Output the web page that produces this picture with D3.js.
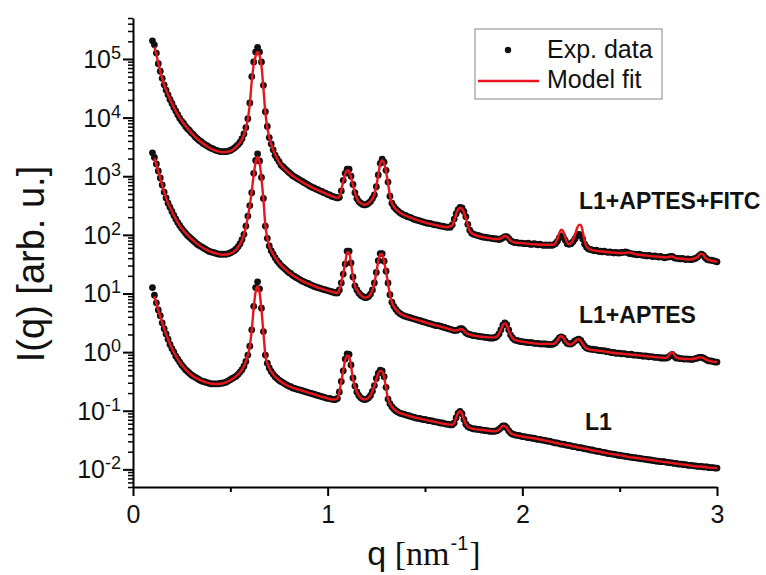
<!DOCTYPE html>
<html><head><meta charset="utf-8">
<script src="https://cdn.jsdelivr.net/npm/d3@7"></script>
<style>body{margin:0;background:#fff}svg{display:block}</style>
</head><body>
<svg id="chart" width="766" height="575"></svg>
<script>
// q grid of the measured points (nm^-1), 0.10 ... 3.00
const qData = d3.range(10, 301).map(i => i / 100);

const expFITC = [
2.04e5,1.74e5,1.26e5,8.32e4,6.17e4,4.68e4,3.63e4,2.95e4,2.45e4,2.04e4,
1.74e4,1.48e4,1.29e4,1.12e4,9.77e3,8.71e3,7.94e3,7.08e3,6.46e3,6.03e3,
5.50e3,5.13e3,4.68e3,4.37e3,4.07e3,3.89e3,3.63e3,3.47e3,3.31e3,3.16e3,
3.02e3,2.95e3,2.82e3,2.75e3,2.69e3,2.63e3,2.63e3,2.63e3,2.63e3,2.69e3,
2.75e3,2.88e3,3.02e3,3.24e3,3.47e3,3.80e3,4.37e3,5.25e3,6.76e3,9.55e3,
1.78e4,5.01e4,8.91e4,1.32e5,1.58e5,1.32e5,8.91e4,3.55e4,1.26e4,7.08e3,
4.57e3,3.55e3,2.82e3,2.29e3,2.00e3,1.78e3,1.55e3,1.45e3,1.35e3,1.26e3,
1.17e3,1.10e3,1.02e3,9.77e2,9.33e2,8.91e2,8.51e2,8.13e2,7.76e2,7.41e2,
7.08e2,6.76e2,6.46e2,6.31e2,6.03e2,5.89e2,5.62e2,5.50e2,5.25e2,5.13e2,
4.90e2,4.79e2,4.57e2,4.47e2,4.37e2,4.27e2,4.37e2,5.62e2,8.51e2,1.12e3,
1.32e3,1.32e3,1.00e3,7.24e2,5.25e2,4.17e2,3.72e2,3.47e2,3.31e2,3.24e2,
3.31e2,3.47e2,3.72e2,4.17e2,4.79e2,6.61e2,1.05e3,1.66e3,1.95e3,1.74e3,
1.26e3,7.94e2,4.57e2,3.47e2,3.02e2,2.75e2,2.57e2,2.40e2,2.29e2,2.19e2,
2.14e2,2.04e2,2.00e2,1.95e2,1.86e2,1.82e2,1.78e2,1.74e2,1.70e2,1.66e2,
1.62e2,1.58e2,1.58e2,1.55e2,1.51e2,1.48e2,1.48e2,1.45e2,1.41e2,1.41e2,
1.38e2,1.35e2,1.35e2,1.35e2,1.48e2,1.86e2,2.29e2,2.69e2,2.95e2,2.88e2,
2.51e2,2.04e2,1.51e2,1.20e2,1.07e2,1.02e2,1.00e2,9.77e1,9.55e1,9.33e1,
9.12e1,9.12e1,8.91e1,8.91e1,8.71e1,8.71e1,8.51e1,8.51e1,8.32e1,8.51e1,
8.91e1,9.33e1,9.33e1,8.71e1,7.94e1,7.59e1,7.41e1,7.41e1,7.24e1,7.24e1,
7.24e1,7.08e1,7.08e1,7.24e1,6.92e1,6.92e1,7.08e1,6.92e1,6.76e1,6.92e1,
6.76e1,6.61e1,6.76e1,6.61e1,6.76e1,6.61e1,6.76e1,7.08e1,7.76e1,8.91e1,
9.55e1,9.33e1,8.13e1,7.08e1,6.92e1,7.08e1,7.59e1,8.51e1,9.55e1,1.02e2,
1.00e2,8.51e1,6.92e1,6.17e1,5.75e1,5.62e1,5.50e1,5.37e1,5.50e1,5.25e1,
5.25e1,5.13e1,5.25e1,5.13e1,5.01e1,5.13e1,5.01e1,4.90e1,5.01e1,4.90e1,
4.90e1,5.01e1,5.01e1,5.13e1,5.01e1,4.79e1,4.79e1,4.68e1,4.68e1,4.57e1,
4.68e1,4.57e1,4.47e1,4.47e1,4.37e1,4.47e1,4.37e1,4.27e1,4.37e1,4.27e1,
4.17e1,4.27e1,4.17e1,4.07e1,4.17e1,4.17e1,4.27e1,4.27e1,4.07e1,3.98e1,
3.98e1,3.89e1,3.98e1,3.89e1,3.80e1,3.89e1,3.80e1,3.80e1,3.89e1,3.98e1,
4.17e1,4.47e1,4.68e1,4.47e1,4.07e1,3.80e1,3.72e1,3.72e1,3.63e1,3.55e1,
3.47e1];

const expAPTES = [
2.51e3,2.09e3,1.62e3,1.23e3,9.33e2,7.08e2,5.37e2,4.27e2,3.47e2,2.95e2,
2.51e2,2.14e2,1.86e2,1.62e2,1.45e2,1.29e2,1.17e2,1.07e2,9.77e1,9.12e1,
8.51e1,7.94e1,7.41e1,6.92e1,6.61e1,6.31e1,6.03e1,5.75e1,5.50e1,5.25e1,
5.13e1,5.01e1,4.90e1,4.79e1,4.68e1,4.68e1,4.68e1,4.68e1,4.68e1,4.79e1,
4.90e1,5.13e1,5.37e1,5.75e1,6.31e1,7.08e1,8.32e1,1.02e2,1.41e2,2.09e2,
3.16e2,5.25e2,1.12e3,1.86e3,2.40e3,1.82e3,9.55e2,4.17e2,1.41e2,8.71e1,
6.46e1,5.37e1,4.68e1,4.07e1,3.63e1,3.31e1,3.02e1,2.82e1,2.63e1,2.45e1,
2.29e1,2.19e1,2.04e1,1.95e1,1.86e1,1.78e1,1.70e1,1.62e1,1.58e1,1.51e1,
1.48e1,1.41e1,1.38e1,1.32e1,1.29e1,1.26e1,1.23e1,1.20e1,1.17e1,1.15e1,
1.12e1,1.10e1,1.07e1,1.05e1,1.02e1,1.02e1,1.15e1,1.51e1,2.14e1,3.16e1,
5.25e1,5.25e1,3.31e1,1.91e1,1.35e1,1.15e1,1.02e1,9.33,8.91,8.51,
8.51,8.91,9.77,1.15e1,1.51e1,2.29e1,3.63e1,4.79e1,4.79e1,3.55e1,
2.40e1,1.51e1,9.55,7.08,6.03,5.37,4.90,4.57,4.37,4.17,
4.07,3.98,3.89,3.80,3.72,3.63,3.55,3.47,3.39,3.31,
3.24,3.16,3.09,3.02,2.95,2.88,2.82,2.82,2.75,2.69,
2.63,2.57,2.51,2.45,2.40,2.34,2.34,2.40,2.51,2.51,
2.34,2.14,2.04,2.00,1.95,1.91,1.91,1.86,1.86,1.82,
1.82,1.78,1.78,1.74,1.74,1.74,1.78,1.86,2.04,2.40,
2.88,3.16,2.95,2.40,1.95,1.74,1.62,1.58,1.55,1.51,
1.51,1.48,1.48,1.45,1.45,1.45,1.41,1.41,1.41,1.38,
1.38,1.38,1.38,1.35,1.35,1.35,1.38,1.45,1.58,1.74,
1.82,1.74,1.55,1.41,1.38,1.38,1.45,1.55,1.62,1.66,
1.58,1.41,1.26,1.17,1.15,1.12,1.12,1.10,1.10,1.07,
1.07,1.05,1.06,1.02,1.03,1.00,0.977,0.985,0.955,0.960,
0.955,0.933,0.940,0.933,0.912,0.912,0.920,0.891,0.891,0.891,
0.871,0.871,0.851,0.860,0.851,0.832,0.840,0.832,0.813,0.813,
0.813,0.794,0.794,0.794,0.794,0.813,0.871,0.912,0.851,0.794,
0.794,0.776,0.776,0.759,0.765,0.759,0.759,0.750,0.759,0.776,
0.794,0.813,0.813,0.794,0.759,0.724,0.708,0.708,0.692,0.676,
0.676];

const expL1 = [
12.6,9.33,6.92,5.25,4.17,3.16,2.51,2.04,1.66,1.35,
1.15,1.00,0.851,0.759,0.676,0.603,0.550,0.501,0.468,0.437,
0.407,0.389,0.372,0.355,0.339,0.324,0.316,0.309,0.302,0.295,
0.288,0.288,0.288,0.288,0.288,0.295,0.295,0.302,0.309,0.324,
0.339,0.355,0.372,0.389,0.417,0.457,0.501,0.575,0.692,0.891,
1.26,2.40,6.03,12.6,15.8,12.0,5.62,2.24,0.891,0.646,
0.537,0.468,0.417,0.380,0.355,0.331,0.316,0.302,0.288,0.275,
0.263,0.257,0.245,0.240,0.234,0.229,0.224,0.219,0.214,0.209,
0.204,0.200,0.195,0.191,0.186,0.182,0.178,0.174,0.170,0.166,
0.162,0.162,0.158,0.155,0.155,0.162,0.209,0.316,0.479,0.759,
0.933,0.912,0.603,0.363,0.263,0.209,0.182,0.166,0.158,0.155,
0.158,0.166,0.182,0.214,0.269,0.355,0.437,0.490,0.479,0.380,
0.251,0.158,0.132,0.117,0.107,0.100,0.0955,0.0912,0.0891,0.0871,
0.0851,0.0832,0.0813,0.0794,0.0776,0.0759,0.0741,0.0741,0.0724,0.0708,
0.0708,0.0692,0.0676,0.0676,0.0661,0.0646,0.0646,0.0631,0.0617,0.0617,
0.0603,0.0589,0.0589,0.0575,0.0575,0.0617,0.0759,0.0912,0.0977,0.0891,
0.0708,0.0589,0.0537,0.0513,0.0501,0.0490,0.0490,0.0479,0.0479,0.0468,
0.0468,0.0457,0.0457,0.0447,0.0447,0.0447,0.0447,0.0457,0.0479,0.0513,
0.0550,0.0550,0.0513,0.0457,0.0417,0.0398,0.0389,0.0380,0.0380,0.0372,
0.0363,0.0363,0.0355,0.0347,0.0347,0.0339,0.0339,0.0331,0.0324,0.0324,
0.0316,0.0316,0.0309,0.0302,0.0302,0.0295,0.0288,0.0282,0.0282,0.0275,
0.0269,0.0269,0.0263,0.0257,0.0257,0.0251,0.0245,0.0245,0.0240,0.0234,
0.0234,0.0229,0.0224,0.0224,0.0219,0.0214,0.0214,0.0209,0.0204,0.0204,
0.0200,0.0195,0.0195,0.0191,0.0186,0.0186,0.0182,0.0182,0.0178,0.0174,
0.0174,0.0170,0.0170,0.0166,0.0166,0.0162,0.0162,0.0158,0.0158,0.0155,
0.0155,0.0151,0.0151,0.0148,0.0148,0.0145,0.0145,0.0141,0.0141,0.0138,
0.0138,0.0135,0.0135,0.0135,0.0132,0.0132,0.0129,0.0129,0.0126,0.0126,
0.0123,0.0123,0.0123,0.0120,0.0120,0.0117,0.0117,0.0117,0.0115,0.0115,
0.0112,0.0112,0.0112,0.0110,0.0110,0.0110,0.0107,0.0107,0.0107,0.0105,
0.0105];

// q grid of the model-fit curves
const qFit = [
0.11,0.12,0.13,0.14,0.16,0.18,0.20,0.23,0.26,0.30,
0.34,0.38,0.42,0.46,0.50,0.53,0.56,0.58,0.59,0.60,
0.61,0.62,0.63,0.64,0.65,0.66,0.67,0.68,0.69,0.70,
0.72,0.75,0.80,0.86,0.92,0.98,1.03,1.05,1.06,1.07,
1.08,1.09,1.10,1.11,1.12,1.13,1.14,1.15,1.17,1.19,
1.21,1.23,1.24,1.25,1.26,1.27,1.28,1.29,1.30,1.31,
1.32,1.33,1.35,1.38,1.42,1.48,1.55,1.61,1.64,1.65,
1.66,1.67,1.68,1.69,1.70,1.71,1.72,1.73,1.75,1.80,
1.86,1.88,1.89,1.90,1.91,1.92,1.93,1.94,1.96,2.00,
2.06,2.12,2.16,2.17,2.18,2.19,2.20,2.21,2.22,2.23,
2.24,2.25,2.26,2.27,2.28,2.29,2.30,2.31,2.32,2.33,
2.35,2.40,2.46,2.52,2.55,2.58,2.64,2.70,2.74,2.75,
2.76,2.77,2.78,2.79,2.81,2.86,2.90,2.91,2.92,2.93,
2.94,2.96,3.00];

const fitFITC = [
1.62e5,1.20e5,8.51e4,6.17e4,3.63e4,2.45e4,1.74e4,1.12e4,7.94e3,5.50e3,
4.07e3,3.24e3,2.75e3,2.57e3,2.69e3,3.16e3,4.27e3,6.61e3,9.55e3,1.70e4,
4.17e4,7.94e4,1.12e5,1.32e5,1.15e5,7.59e4,3.16e4,1.20e4,6.76e3,4.57e3,
2.82e3,1.74e3,1.15e3,8.32e2,6.46e2,5.25e2,4.47e2,4.27e2,4.47e2,5.75e2,
8.32e2,1.10e3,1.26e3,1.23e3,9.55e2,7.08e2,5.25e2,4.17e2,3.47e2,3.24e2,
3.47e2,4.17e2,4.90e2,6.76e2,1.05e3,1.62e3,1.86e3,1.66e3,1.20e3,7.59e2,
4.68e2,3.47e2,2.75e2,2.29e2,2.00e2,1.70e2,1.48e2,1.35e2,1.45e2,1.78e2,
2.24e2,2.69e2,2.88e2,2.82e2,2.40e2,1.91e2,1.45e2,1.17e2,1.02e2,9.12e1,
8.51e1,8.51e1,8.71e1,9.12e1,9.55e1,9.33e1,8.71e1,7.94e1,7.41e1,7.24e1,
6.92e1,6.76e1,6.76e1,7.24e1,8.51e1,1.07e2,1.23e2,1.15e2,9.12e1,7.41e1,
6.92e1,7.24e1,8.13e1,1.00e2,1.26e2,1.48e2,1.48e2,1.15e2,7.94e1,6.31e1,
5.62e1,5.25e1,5.01e1,4.90e1,5.01e1,4.68e1,4.42e1,4.22e1,4.12e1,4.17e1,
4.27e1,4.27e1,4.12e1,3.98e1,3.94e1,3.80e1,4.17e1,4.57e1,4.79e1,4.57e1,
4.07e1,3.72e1,3.51e1];

const fitAPTES = [
2.04e3,1.58e3,1.23e3,9.33e2,5.37e2,3.47e2,2.51e2,1.62e2,1.17e2,8.51e1,
6.61e1,5.50e1,4.90e1,4.57e1,4.79e1,5.62e1,8.13e1,1.38e2,2.04e2,3.16e2,
5.50e2,1.05e3,1.74e3,2.14e3,1.74e3,9.12e2,3.98e2,1.45e2,8.71e1,6.46e1,
4.68e1,3.31e1,2.29e1,1.70e1,1.38e1,1.17e1,1.05e1,1.02e1,1.17e1,1.55e1,
2.19e1,3.24e1,5.01e1,5.01e1,3.24e1,1.91e1,1.35e1,1.15e1,9.33,8.51,
8.91,1.15e1,1.51e1,2.29e1,3.55e1,4.68e1,4.68e1,3.47e1,2.34e1,1.48e1,
9.55,7.08,5.37,4.37,3.89,3.39,2.88,2.57,2.40,2.34,
2.34,2.40,2.45,2.45,2.29,2.14,2.04,2.00,1.91,1.82,
1.78,2.04,2.40,2.88,3.09,2.88,2.34,1.95,1.62,1.51,
1.41,1.38,1.38,1.45,1.58,1.78,1.86,1.78,1.55,1.41,
1.35,1.35,1.41,1.51,1.62,1.66,1.55,1.38,1.23,1.15,
1.10,1.05,0.977,0.933,0.912,0.891,0.851,0.813,0.794,0.851,
0.955,1.00,0.912,0.813,0.776,0.759,0.794,0.813,0.813,0.794,
0.759,0.708,0.676];

const fitL1 = [
8.91,6.76,5.25,4.07,2.51,1.66,1.15,0.759,0.550,0.407,
0.339,0.302,0.285,0.292,0.331,0.389,0.501,0.692,0.891,1.26,
2.40,5.62,10.7,13.2,10.5,5.25,2.14,0.891,0.646,0.537,
0.417,0.331,0.263,0.224,0.195,0.170,0.155,0.162,0.209,0.316,
0.479,0.724,0.871,0.851,0.575,0.355,0.257,0.209,0.166,0.155,
0.166,0.214,0.269,0.347,0.427,0.479,0.468,0.372,0.245,0.158,
0.132,0.117,0.100,0.0891,0.0813,0.0724,0.0646,0.0589,0.0575,0.0617,
0.0759,0.0912,0.0977,0.0891,0.0708,0.0589,0.0537,0.0513,0.0490,0.0468,
0.0447,0.0479,0.0513,0.0550,0.0550,0.0513,0.0457,0.0417,0.0389,0.0363,
0.0339,0.0309,0.0288,0.0282,0.0282,0.0275,0.0269,0.0269,0.0263,0.0257,
0.0257,0.0251,0.0245,0.0245,0.0240,0.0234,0.0234,0.0229,0.0224,0.0224,
0.0214,0.0200,0.0182,0.0170,0.0162,0.0158,0.0148,0.0138,0.0132,0.0132,
0.0129,0.0129,0.0126,0.0126,0.0123,0.0117,0.0112,0.0112,0.0112,0.0110,
0.0110,0.0107,0.0105];

const seriesLabels = ["L1+APTES+FITC", "L1+APTES", "L1"];
const legendLabels = ["Exp. data", "Model fit"];
const xTicks = [0, 1, 2, 3];
const xMinorTicks = [0.5, 1.5, 2.5];
const yTickExponents = [-2, -1, 0, 1, 2, 3, 4, 5];

// ---------- drawing ----------
const SANS = "'Liberation Sans', Arial, Helvetica, sans-serif";
const SERIF = "'Liberation Serif', 'Times New Roman', serif";
const RED = "#e8151c";

const svg = d3.select("#chart");
const x = d3.scaleLinear().domain([0, 3]).range([133, 717]);
const y = d3.scaleLog().domain([0.005, 5e5]).range([487, 18]);

// experimental points
const expSeries = [expFITC, expAPTES, expL1];
expSeries.forEach(vals => {
  const n = Math.min(vals.length, qData.length);
  const pts = d3.range(n).map(i => [qData[i], vals[i]]);
  svg.append("g").selectAll("circle").data(pts).join("circle")
    .attr("cx", d => x(d[0])).attr("cy", d => y(d[1]))
    .attr("r", 3.4).attr("fill", "#111");
});

// model fit lines
const line = d3.line().x(d => x(d[0])).y(d => y(d[1])).curve(d3.curveMonotoneX);
[fitFITC, fitAPTES, fitL1].forEach(vals => {
  const n = Math.min(vals.length, qFit.length);
  const pts = d3.range(n).map(i => [qFit[i], vals[i]]);
  svg.append("path").datum(pts).attr("d", line)
    .attr("fill", "none").attr("stroke", RED).attr("stroke-width", 2.4)
    .attr("stroke-linejoin", "round");
});

// x axis
const gx = svg.append("g").attr("transform", "translate(0,487)")
  .call(d3.axisBottom(x).tickValues(xTicks).tickSize(9).tickSizeOuter(0)
    .tickPadding(9).tickFormat(d3.format("d")));
gx.select(".domain").attr("stroke-width", 2);
gx.selectAll(".tick line").attr("stroke-width", 2);
gx.selectAll(".tick text").attr("font-family", SANS).attr("font-size", 25).attr("fill", "#111");
const gxm = svg.append("g").attr("transform", "translate(0,487)")
  .call(d3.axisBottom(x).tickValues(xMinorTicks).tickSize(5).tickFormat(""));
gxm.select(".domain").remove();
gxm.selectAll(".tick line").attr("stroke-width", 2);

// y axis
const yMinor = [];
for (let e = -3; e <= 5; e++) for (let m = 2; m <= 9; m++) {
  const v = m * Math.pow(10, e);
  if (v >= 0.005 && v <= 5e5) yMinor.push(v);
}
const yMajor = yTickExponents.map(e => Math.pow(10, e));
const gy = svg.append("g").attr("transform", "translate(133,0)")
  .call(d3.axisLeft(y).tickValues(yMajor).tickSize(10).tickSizeOuter(0).tickFormat(""));
gy.select(".domain").attr("stroke-width", 2);
gy.selectAll(".tick line").attr("stroke-width", 2);
const gym = svg.append("g").attr("transform", "translate(133,0)")
  .call(d3.axisLeft(y).tickValues(yMinor).tickSize(5).tickFormat(""));
gym.select(".domain").remove();
gym.selectAll(".tick line").attr("stroke-width", 1.5);

// y tick labels 10^n
yTickExponents.forEach(e => {
  const t = svg.append("text").attr("x", 121).attr("y", y(Math.pow(10, e)) + 9)
    .attr("text-anchor", "end").attr("font-family", SANS).attr("fill", "#111");
  t.append("tspan").attr("font-size", 25).text("10");
  t.append("tspan").attr("font-size", 18).attr("dy", -9).text(String(e));
});

// axis titles
svg.append("text")
  .attr("transform", "translate(44,264) rotate(-90)")
  .attr("text-anchor", "middle").attr("font-family", SANS)
  .attr("font-size", 38).attr("fill", "#111").text("I(q) [arb. u.]");

const xt = svg.append("text").attr("x", 424).attr("y", 565)
  .attr("text-anchor", "middle").attr("fill", "#111");
xt.append("tspan").attr("font-family", SANS).attr("font-size", 34).text("q");
xt.append("tspan").attr("font-family", SERIF).attr("font-size", 34).text(" [nm");
xt.append("tspan").attr("font-family", SANS).attr("font-size", 20).attr("dx", 1).attr("dy", -15).text("-1");
xt.append("tspan").attr("font-family", SERIF).attr("font-size", 34).attr("dx", 1).attr("dy", 15).text("]");

// series labels
const labelPos = [[579, 209], [579, 323], [585, 430]];
seriesLabels.forEach((s, i) => {
  svg.append("text").attr("x", labelPos[i][0]).attr("y", labelPos[i][1])
    .attr("font-family", SANS).attr("font-weight", "bold").attr("font-size", 23)
    .attr("fill", "#111").text(s);
});

// legend
const lg = svg.append("g");
lg.append("rect").attr("x", 475).attr("y", 29).attr("width", 187).attr("height", 70)
  .attr("fill", "#fff").attr("stroke", "#999").attr("stroke-width", 1.2);
lg.append("circle").attr("cx", 508).attr("cy", 50).attr("r", 3.2).attr("fill", "#111");
lg.append("line").attr("x1", 478).attr("x2", 539).attr("y1", 81).attr("y2", 81)
  .attr("stroke", RED).attr("stroke-width", 2.4);
lg.append("text").attr("x", 547).attr("y", 58).attr("font-family", SANS)
  .attr("font-size", 25).attr("fill", "#111").text(legendLabels[0]);
lg.append("text").attr("x", 547).attr("y", 88).attr("font-family", SANS)
  .attr("font-size", 25).attr("fill", "#111").text(legendLabels[1]);
</script>
</body></html>
